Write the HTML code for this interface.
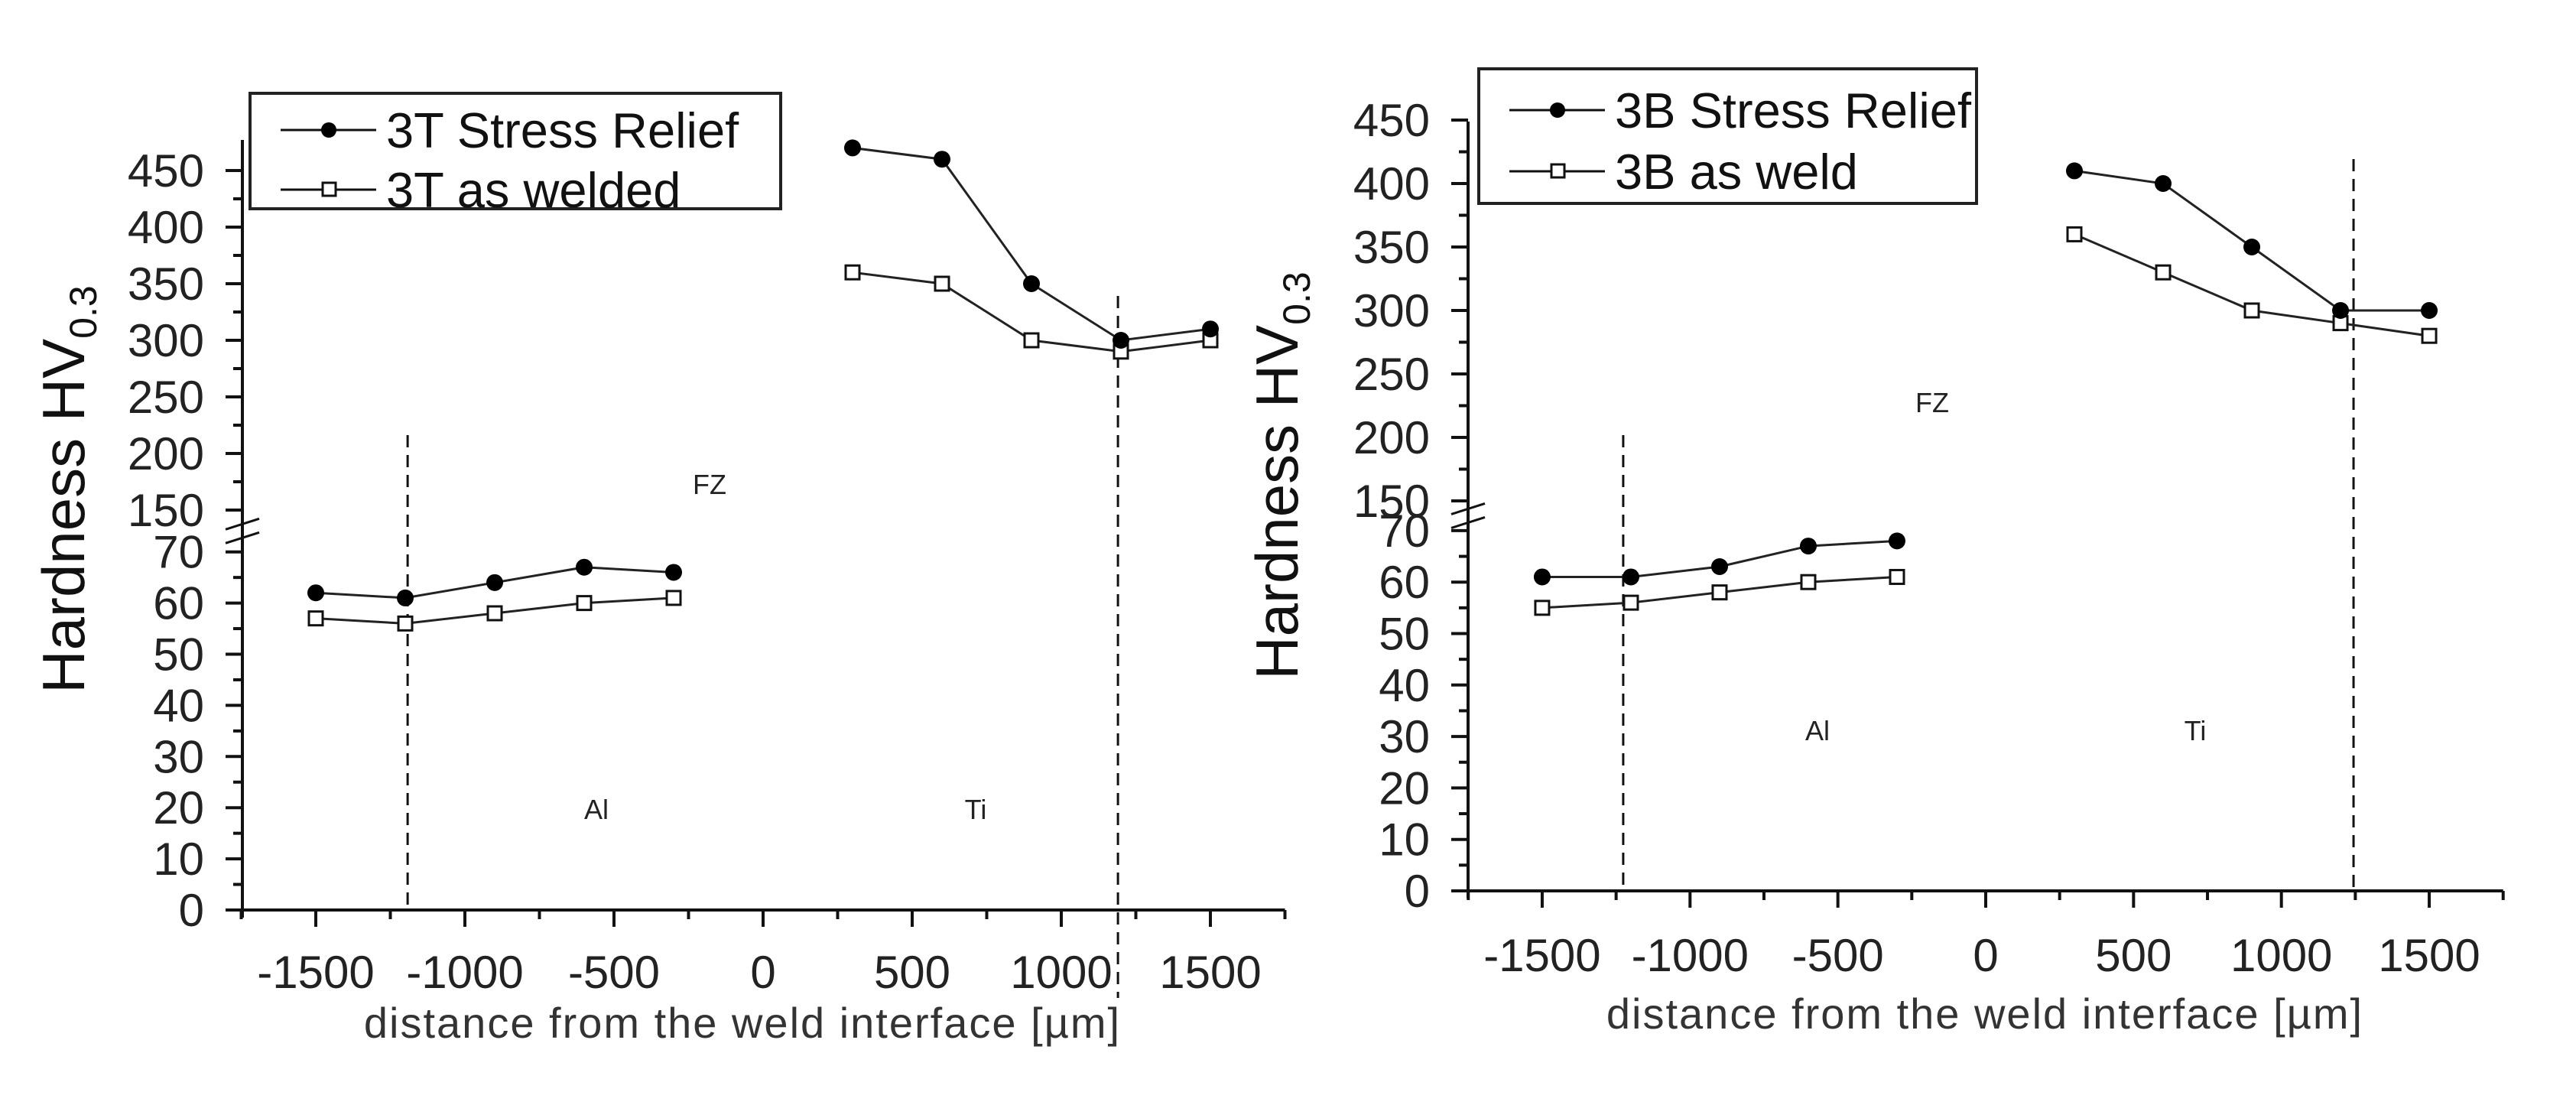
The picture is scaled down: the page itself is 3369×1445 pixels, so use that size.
<!DOCTYPE html>
<html><head><meta charset="utf-8"><style>
html,body{margin:0;padding:0;background:#fff;}
svg{display:block;font-family:"Liberation Sans",Arial,sans-serif;}
</style></head><body>
<svg id="chart" width="3369" height="1445" viewBox="0 0 3369 1445" xmlns="http://www.w3.org/2000/svg"></svg>
<script>
// ---- data ----
const xAl = [-1500, -1200, -900, -600, -300];
const xTi = [300, 600, 900, 1200, 1500];
const leftSRAl = [62, 61, 64, 67, 66];
const leftSRTi = [470, 460, 350, 300, 310];
const leftAWAl = [57, 56, 58, 60, 61];
const leftAWTi = [360, 350, 300, 290, 300];
const rightSRAl = [61, 61, 63, 67, 68];
const rightSRTi = [410, 400, 350, 300, 300];
const rightAWAl = [55, 56, 58, 60, 61];
const rightAWTi = [360, 330, 300, 290, 280];
const xTicks = [-1500, -1000, -500, 0, 500, 1000, 1500];
const yLowTicks = [0, 10, 20, 30, 40, 50, 60, 70];
const yHighTicks = [150, 200, 250, 300, 350, 400, 450];
const leftDashes = [-1192, 1190];
const rightDashes = [-1226, 1244];

const NS = "http://www.w3.org/2000/svg";
const svg = document.getElementById('chart');
function el(tag, attrs, parent, text){
  const e = document.createElementNS(NS, tag);
  for (const k in attrs) e.setAttribute(k, attrs[k]);
  if (text !== undefined) e.textContent = text;
  (parent || svg).appendChild(e);
  return e;
}

function chart(cfg){
  const g = el('g', {});
  
  
  const X = v => cfg.x0 + v * cfg.xs;
  const Y = v => v <= 100 ? cfg.y0 - v * cfg.lowS : cfg.y150 - (v - 150) * cfg.highS;
  const st = {stroke:'#111','stroke-width':4,fill:'none'};
  const ya = el('line', Object.assign({x1:cfg.ax, y1:cfg.ytop, x2:cfg.ax, y2:cfg.y0+10}, st), g);
  
  
  const by = (Y(150) + Y(70)) / 2;
  for (const d of [-9, 9]) {
    const bm = el('line', {x1:cfg.ax-22, y1:by+d+7, x2:cfg.ax+22, y2:by+d-7, stroke:'#111','stroke-width':3}, g);
    
    
  }
  for (let v = 0; v <= 70; v += 5) {
    const major = v % 10 === 0;
    el('line', {x1:cfg.ax-(major?22:12), y1:Y(v), x2:cfg.ax, y2:Y(v), stroke:'#111','stroke-width':4}, g);
  }
  for (let v = 150; v <= 450; v += 25) {
    const major = v % 50 === 0;
    el('line', {x1:cfg.ax-(major?22:12), y1:Y(v), x2:cfg.ax, y2:Y(v), stroke:'#111','stroke-width':4}, g);
  }
  for (const t of yLowTicks.concat(yHighTicks)) {
    const tl = el('text', {x:cfg.ax-50, y:Y(t)+21, 'font-size':60, 'text-anchor':'end', fill:'#222'}, g, String(t));
    
    
  }
  const xa = el('line', Object.assign({x1:cfg.ax-22, y1:cfg.y0, x2:X(1750), y2:cfg.y0}, st), g);
  
  
  for (let v = -1750; v <= 1750; v += 250) {
    const major = v % 500 === 0;
    el('line', {x1:X(v), y1:cfg.y0, x2:X(v), y2:cfg.y0+(major?22:12), stroke:'#111','stroke-width':4}, g);
  }
  for (const t of xTicks) {
    const tl = el('text', {x:X(t), y:cfg.xlabY, 'font-size':60, 'text-anchor':'middle', fill:'#222'}, g, String(t));
    
    
  }
  const xt = el('text', {x:cfg.xtX, y:cfg.xtY, 'font-size':56, 'text-anchor':'middle', fill:'#333', 'letter-spacing':'2'}, g, 'distance from the weld interface [\u00b5m]');
  
  
  const yt = el('text', {x:0, y:0, 'font-size':78, 'text-anchor':'middle', fill:'#111', transform:`translate(${cfg.ytX},${cfg.ytY}) rotate(-90)`}, g);
  
  
  el('tspan', {}, yt, 'Hardness HV');
  el('tspan', {'font-size':50, dy:16}, yt, '0.3');
  cfg.dashes.forEach((d, i) => {
    const dl = el('line', {x1:X(d), y1:cfg.dashTop[i], x2:X(d), y2:cfg.dashBot[i], stroke:'#111','stroke-width':3,'stroke-dasharray':'16,10'}, g);
    
    
  });
  for (const r of cfg.regions) {
    const rl = el('text', {x:r[1], y:r[2], 'font-size':36, 'text-anchor':'middle', fill:'#222'}, g, r[0]);
    
    
  }
  function series(xs, ys, filled, name){
    const pts = xs.map((x, i) => X(x) + ',' + Y(ys[i])).join(' ');
    const pl = el('polyline', {points:pts, stroke:'#222','stroke-width':3, fill:'none'}, g);
    
    
    xs.forEach((x, i) => {
      let m;
      if (filled) m = el('circle', {cx:X(x), cy:Y(ys[i]), r:11, fill:'#000'}, g);
      else m = el('rect', {x:X(x)-9, y:Y(ys[i])-9, width:18, height:18, fill:'#fff', stroke:'#111','stroke-width':3}, g);
      
      
    });
  }
  series(xAl, cfg.awAl, false, 'as-welded-al');
  series(xTi, cfg.awTi, false, 'as-welded-ti');
  series(xAl, cfg.srAl, true, 'stress-relief-al');
  series(xTi, cfg.srTi, true, 'stress-relief-ti');
  const L = cfg.legend;
  const lg = el('g', {}, g);
  
  
  el('rect', {x:L.x, y:L.y, width:L.w, height:L.h, fill:'#fff', stroke:'#222','stroke-width':4}, lg);
  L.rows.forEach((row, i) => {
    const cy = L.rowY[i];
    const le = el('g', {}, lg);
    
    
    el('line', {x1:L.x+40, y1:cy, x2:L.x+165, y2:cy, stroke:'#111','stroke-width':3}, le);
    if (i === 0) el('circle', {cx:L.x+103, cy:cy, r:10, fill:'#000'}, le);
    else el('rect', {x:L.x+95, y:cy-9, width:17, height:17, fill:'#fff', stroke:'#111','stroke-width':3}, le);
    el('text', {x:L.x+178, y:cy+23, 'font-size':65, fill:'#111'}, le, row);
  });
}

chart({name:'chart-3t', ax:317, x0:998, xs:0.39, y0:1190, lowS:6.69, y150:667, highS:1.48, ytop:183,
  xlabY:1292, xtX:971, xtY:1357, ytX:110, ytY:640,
  dashes:leftDashes, dashTop:[569, 387], dashBot:[1188, 1305],
  regions:[['FZ',928,646],['Al',780,1071],['Ti',1276,1071]],
  srAl:leftSRAl, srTi:leftSRTi, awAl:leftAWAl, awTi:leftAWTi,
  legend:{x:327, y:122, w:694, h:151, rows:['3T Stress Relief','3T as welded'], rowY:[170,248]}});

chart({name:'chart-3b', ax:1920, x0:2597, xs:0.3867, y0:1165, lowS:6.73, y150:655, highS:1.66, ytop:159,
  xlabY:1270, xtX:2596, xtY:1345, ytX:1697, ytY:622,
  dashes:rightDashes, dashTop:[569, 208], dashBot:[1163, 1163],
  regions:[['FZ',2527,539],['Al',2377,968],['Ti',2871,968]],
  srAl:rightSRAl, srTi:rightSRTi, awAl:rightAWAl, awTi:rightAWTi,
  legend:{x:1934, y:90, w:651, h:176, rows:['3B Stress Relief','3B as weld'], rowY:[144,224]}});
</script>
</body></html>
